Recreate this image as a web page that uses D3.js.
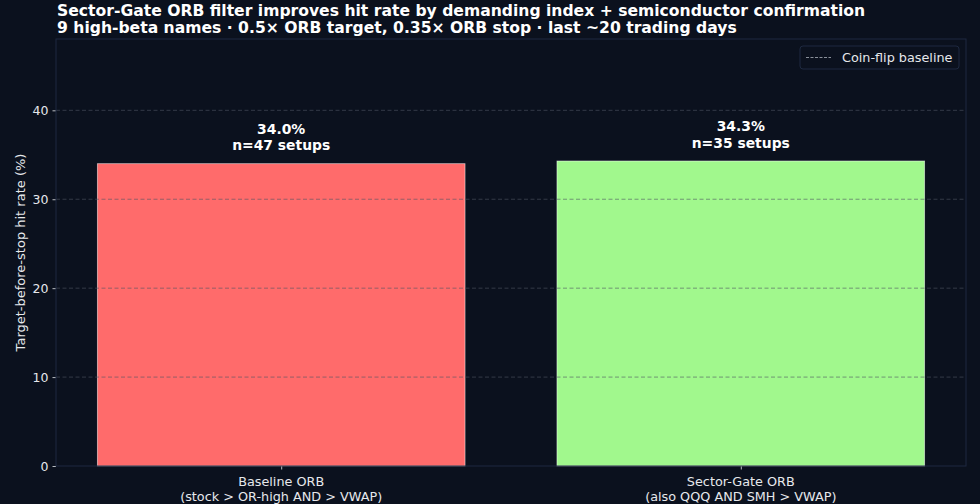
<!DOCTYPE html>
<html lang="en">
<head>
    <meta charset="utf-8">
    <title>Sector-Gate ORB hit rate</title>
    <script type="text/javascript" src="https://d3js.org/d3.v7.min.js"></script>
    <style type="text/css">
        body { margin: 0; background: #0b111e; }
        text { font-family: "DejaVu Sans", sans-serif; }
    </style>
</head>
<body>
    <script type="text/javascript">
        //Chart data
        const categories = ['Baseline ORB', 'Sector-Gate ORB'];
        const subLabels = ['(stock > OR-high AND > VWAP)', '(also QQQ AND SMH > VWAP)'];
        const hitRates = [34.0, 34.3];
        const setupCounts = [47, 35];
        const barColors = ['#ff6b6b', '#a1f88d'];
        const yTicks = [0, 10, 20, 30, 40];
        const coinFlip = 50;

        const titleLines = [
            'Sector-Gate ORB filter improves hit rate by demanding index + semiconductor confirmation',
            '9 high-beta names \u00b7 0.5\u00d7 ORB target, 0.35\u00d7 ORB stop \u00b7 last ~20 trading days'
        ];

        //Canvas + margins
        const width = 980;
        const height = 504;
        const margin = { top: 39, right: 14, bottom: 38, left: 56 };
        const bg = '#0b111e';
        const spineColor = '#1e2940';
        const textColor = '#e6e8ec';

        //Scales (bar width 0.8 of band, 5% margins like matplotlib)
        const xScale = d3.scaleLinear()
            .domain([-0.49, 1.49])
            .range([margin.left, width - margin.right]);
        const barW = xScale(0.8) - xScale(0);

        const yScale = d3.scaleLinear()
            .domain([0, d3.max(hitRates) * 1.4])
            .range([height - margin.bottom, margin.top]);

        const svg = d3.select('body')
            .append('svg')
            .attr('width', width)
            .attr('height', height);

        svg.append('rect')
            .attr('width', width)
            .attr('height', height)
            .attr('fill', bg);

        svg.append('clipPath')
            .attr('id', 'plot-clip')
            .append('rect')
            .attr('x', margin.left)
            .attr('y', margin.top)
            .attr('width', width - margin.left - margin.right)
            .attr('height', height - margin.top - margin.bottom);

        //Bars
        svg.append('g')
            .selectAll('rect')
            .data(hitRates)
            .enter()
            .append('rect')
            .attr('x', (d, i) => xScale(i) - barW / 2)
            .attr('y', d => yScale(d))
            .attr('width', barW)
            .attr('height', d => yScale(0) - yScale(d))
            .attr('fill', (d, i) => barColors[i])
            .attr('stroke', 'rgba(255,255,255,0.6)')
            .attr('stroke-width', 0.8);

        //Grid drawn over bars
        svg.append('g')
            .selectAll('line')
            .data(yTicks.slice(1))
            .enter()
            .append('line')
            .attr('x1', margin.left)
            .attr('x2', width - margin.right)
            .attr('y1', d => yScale(d))
            .attr('y2', d => yScale(d))
            .attr('stroke', '#4e5563')
            .attr('stroke-opacity', 0.6)
            .attr('stroke-width', 1)
            .attr('stroke-dasharray', '4,2.5');

        //Coin-flip baseline (sits above the visible range)
        svg.append('line')
            .attr('clip-path', 'url(#plot-clip)')
            .attr('x1', margin.left)
            .attr('x2', width - margin.right)
            .attr('y1', yScale(coinFlip))
            .attr('y2', yScale(coinFlip))
            .attr('stroke', '#8a909a')
            .attr('stroke-width', 1)
            .attr('stroke-dasharray', '3,1.5');

        //Value labels
        const valueLabels = svg.append('g')
            .selectAll('text')
            .data(hitRates)
            .enter()
            .append('text')
            .attr('text-anchor', 'middle')
            .attr('x', (d, i) => xScale(i))
            .attr('font-size', 13.9)
            .attr('font-weight', 'bold')
            .attr('fill', '#ffffff');
        valueLabels.append('tspan')
            .attr('x', (d, i) => xScale(i))
            .attr('y', d => yScale(d + 1) - 21)
            .text(d => d.toFixed(1) + '%');
        valueLabels.append('tspan')
            .attr('x', (d, i) => xScale(i))
            .attr('y', d => yScale(d + 1) - 4.5)
            .text((d, i) => 'n=' + setupCounts[i] + ' setups');

        //Axes
        const leftAxis = d3.axisLeft(yScale)
            .tickValues(yTicks)
            .tickSize(3.5)
            .tickPadding(4);
        const bottomAxis = d3.axisBottom(xScale)
            .tickValues([0, 1])
            .tickSize(3.5)
            .tickFormat('');

        const gy = svg.append('g')
            .attr('transform', 'translate(' + margin.left + ',0)')
            .call(leftAxis);
        const gx = svg.append('g')
            .attr('transform', 'translate(0,' + (height - margin.bottom) + ')')
            .call(bottomAxis);

        [gx, gy].forEach(g => {
            g.select('.domain').remove();
            g.selectAll('.tick line').attr('stroke', textColor).attr('stroke-width', 0.8);
            g.selectAll('.tick text')
                .attr('fill', textColor)
                .attr('font-size', 12.5)
                .attr('font-family', '"DejaVu Sans", sans-serif');
        });

        //Two-line category labels
        const catLabels = svg.append('g')
            .selectAll('text')
            .data(categories)
            .enter()
            .append('text')
            .attr('text-anchor', 'middle')
            .attr('font-size', 12.8)
            .attr('fill', textColor);
        catLabels.append('tspan')
            .attr('x', (d, i) => xScale(i))
            .attr('y', height - margin.bottom + 20)
            .text(d => d);
        catLabels.append('tspan')
            .attr('x', (d, i) => xScale(i))
            .attr('y', height - margin.bottom + 34.5)
            .text((d, i) => subLabels[i]);

        //Spines
        svg.append('rect')
            .attr('x', margin.left)
            .attr('y', margin.top)
            .attr('width', width - margin.left - margin.right)
            .attr('height', height - margin.top - margin.bottom)
            .attr('fill', 'none')
            .attr('stroke', spineColor)
            .attr('stroke-width', 1);

        //Y-axis label
        svg.append('text')
            .attr('text-anchor', 'middle')
            .attr('transform', 'translate(25,' + ((margin.top + height - margin.bottom) / 2) + ') rotate(-90)')
            .attr('font-size', 13)
            .attr('fill', textColor)
            .text('Target-before-stop hit rate (%)');

        //Title
        svg.append('g')
            .selectAll('text')
            .data(titleLines)
            .enter()
            .append('text')
            .attr('x', margin.left + 1)
            .attr('y', (d, i) => 16 + i * 16.5)
            .attr('font-size', 15.6)
            .attr('font-weight', 'bold')
            .attr('fill', '#ffffff')
            .text(d => d);

        //Legend
        const legend = svg.append('g')
            .attr('transform', 'translate(800,46)');
        legend.append('rect')
            .attr('width', 159)
            .attr('height', 23)
            .attr('rx', 3)
            .attr('fill', bg)
            .attr('stroke', spineColor)
            .attr('stroke-width', 1);
        legend.append('line')
            .attr('x1', 6)
            .attr('x2', 31)
            .attr('y1', 11.5)
            .attr('y2', 11.5)
            .attr('stroke', '#8a909a')
            .attr('stroke-width', 1)
            .attr('stroke-dasharray', '3,1.5');
        legend.append('text')
            .attr('x', 42)
            .attr('y', 16)
            .attr('font-size', 12.8)
            .attr('fill', textColor)
            .text('Coin-flip baseline');
    </script>
</body>
</html>
